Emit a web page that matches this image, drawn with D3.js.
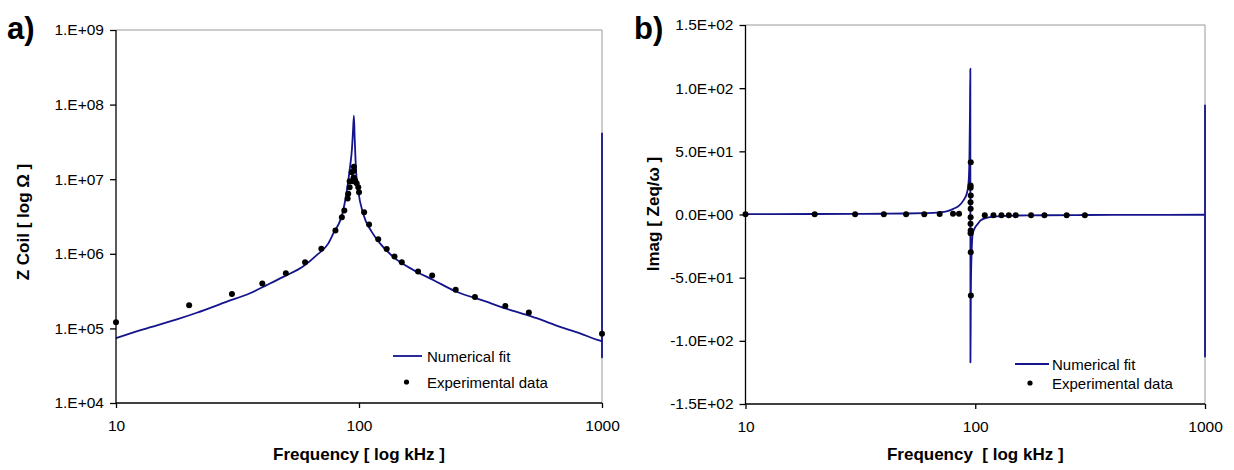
<!DOCTYPE html>
<html><head><meta charset="utf-8">
<script src="https://cdn.jsdelivr.net/npm/d3@7"></script>
<style>
html,body{margin:0;padding:0;background:#fff;}
svg{display:block;font-family:"Liberation Sans",Arial,sans-serif;}
</style></head><body>
<svg id="c" width="1234" height="470"></svg>
<script>
// ---------- Panel a) data ----------
const fitAFreq = [10, 12.95, 17.8, 21.5, 28.6, 35.6, 41.7, 48.8, 59, 67, 74.8, 78.3, 86.1, 91.8, 93.5, 94.5, 95.3, 96, 97, 99.3, 104.2, 112.7, 122, 138.3, 167.3, 202, 252, 325, 418, 538, 672, 812, 957, 1000, 1000, 1000];
const fitAZ    = [7.4e4, 9.7e4, 1.32e5, 1.62e5, 2.28e5, 2.96e5, 3.8e5, 4.9e5, 6.8e5, 9.6e5, 1.38e6, 1.86e6, 3.8e6, 1.44e7, 2.5e7, 4.5e7, 7.1e7, 3.5e7, 1.5e7, 7.0e6, 3.4e6, 1.98e6, 1.38e6, 9.1e5, 6.07e5, 4.46e5, 3.1e5, 2.35e5, 1.77e5, 1.37e5, 1.05e5, 8.6e4, 7.0e4, 6.7e4, 4.1e4, 4.2e7];
const expAFreq = [10, 20, 30, 40, 50, 60, 70, 80, 85, 87, 89.8, 90.3, 91.5, 91.5, 93.3, 94.2, 95, 95.3, 95.3, 96.4, 97.8, 99.3, 100, 105, 110, 120, 130, 140, 150, 175, 200, 250, 300, 400, 500, 1000];
const expAZ    = [1.21e5, 2.04e5, 2.9e5, 4.0e5, 5.5e5, 7.7e5, 1.17e6, 2.06e6, 3.1e6, 3.8e6, 5.5e6, 6.4e6, 7.8e6, 9.4e6, 1.24e7, 9.4e6, 1.05e7, 1.3e7, 1.47e7, 9.6e6, 8.8e6, 7.8e6, 6.7e6, 3.6e6, 2.47e6, 1.57e6, 1.16e6, 9.2e5, 7.7e5, 5.8e5, 5.1e5, 3.3e5, 2.64e5, 2.0e5, 1.63e5, 8.5e4];
const yTicksA = [1e4, 1e5, 1e6, 1e7, 1e8, 1e9];
const yTickLabelsA = ["1.E+04", "1.E+05", "1.E+06", "1.E+07", "1.E+08", "1.E+09"];

// ---------- Panel b) data ----------
const fitBFreq = [10, 20, 30, 40, 50, 60, 65.7, 70, 75, 80.3, 85, 88.7, 92, 93.5, 94.3, 94.8, 95.2, 95.3, 95.7, 96.5, 97.5, 100, 102, 105, 110, 116, 130, 152, 200, 300, 500, 1000, 1000, 1000];
const fitBVal  = [0.3, 0.4, 0.5, 0.6, 0.8, 1.1, 1.3, 1.7, 2.5, 4.5, 7, 11, 17, 25, 43, 77, 115.4, -117, -60, -28.5, -15.3, -10, -8, -5, -3, -2.1, -1.2, -0.8, -0.6, -0.4, -0.3, -0.2, 86.3, -113];
const expBFreq = [10, 20, 30, 40, 50, 60, 70, 80, 85, 95.6, 95.5, 95.5, 95.6, 95.4, 95.5, 95.5, 95.4, 95.5, 95.4, 95.6, 95.7, 110, 120, 130, 140, 150, 175, 200, 250, 300];
const expBVal  = [0.2, 0.2, 0.2, 0.2, 0.2, 0.2, 0.3, 0.5, 0.6, 41.4, 23.0, 21.1, 15.0, 9.7, 4.5, -2.1, -7.4, -12.7, -14.8, -29.8, -64.1, -0.5, -0.5, -0.5, -0.5, -0.5, -0.5, -0.5, -0.5, -0.5];
const yTicksB = [-150, -100, -50, 0, 50, 100, 150];
const yTickLabelsB = ["-1.5E+02", "-1.0E+02", "-5.0E+01", "0.0E+00", "5.0E+01", "1.0E+02", "1.5E+02"];

const xTicks = [10, 100, 1000];
const xTickLabels = ["10", "100", "1000"];

const svg = d3.select("#c");
const LINE = "#14148c";
const FONT = "15.5px";

function panel(o) {
  const g = svg.append("g");
  const x = o.x, y = o.y;
  const [x0, x1] = x.range();
  const [yb, yt] = y.range();
  // frame (top/right grey)
  g.append("line").attr("x1", x0).attr("x2", x1).attr("y1", yt).attr("y2", yt).attr("stroke", "#9a9a9a").attr("stroke-width", 1);
  g.append("line").attr("x1", x1).attr("x2", x1).attr("y1", yt).attr("y2", yb).attr("stroke", "#9a9a9a").attr("stroke-width", 1);

  // fit line: smooth part up to the first point at the right edge, then straight tail
  const pts = o.fitF.map((f, i) => [f, o.fitV[i]]);
  const cut = pts.findIndex(d => d[0] >= 1000);
  const main = pts.slice(0, cut + 1), tail = pts.slice(cut);
  const smooth = d3.line().x(d => x(d[0])).y(d => y(d[1])).curve(d3.curveMonotoneX);
  const straight = d3.line().x(d => x(d[0])).y(d => y(d[1]));
  [[main, smooth], [tail, straight]].forEach(([data, gen]) => {
    g.append("path").datum(data).attr("d", gen).attr("fill", "none")
      .attr("stroke", LINE).attr("stroke-width", 1.8).attr("stroke-linejoin", "round");
  });

  // experimental points
  g.selectAll("circle.e").data(o.expF.map((f, i) => [f, o.expV[i]])).join("circle")
    .attr("cx", d => x(d[0])).attr("cy", d => y(d[1])).attr("r", 3).attr("fill", "#000");

  // axes
  const ya = d3.axisLeft(y).tickValues(o.yTicks).tickFormat((d, i) => o.yLabels[i]).tickSize(6).tickPadding(6);
  const yg = g.append("g").attr("transform", `translate(${x0},0)`).call(ya);
  const xa = d3.axisBottom(x).tickValues(xTicks).tickFormat((d, i) => xTickLabels[i]).tickSize(5).tickPadding(12);
  const xg = g.append("g").attr("transform", `translate(0,${yb})`).call(xa);
  [yg, xg].forEach(a => {
    a.select(".domain").attr("stroke", "#000").attr("stroke-width", 1.3);
    a.selectAll(".tick line").attr("stroke", "#000").attr("stroke-width", 1.3);
    a.selectAll(".tick text").attr("fill", "#000").style("font-size", FONT).style("font-family", '"Liberation Sans",Arial,sans-serif');
  });
  xg.select(".domain").attr("d", `M${x0},0H${x1}`);
  yg.select(".domain").attr("d", `M0,${yb}V${yt}`);

  // axis titles
  g.append("text").attr("x", (x0 + x1) / 2).attr("y", 460).attr("text-anchor", "middle")
    .style("font-size", "17px").style("font-weight", "bold").text(o.xTitle);
  g.append("text").attr("transform", `translate(${o.yTitleX},${o.yTitleY}) rotate(-90)`)
    .attr("text-anchor", "middle").attr("dy", "0.35em")
    .style("font-size", "17px").style("font-weight", "bold").text(o.yTitle);

  // panel label
  g.append("text").attr("x", o.labX).attr("y", 39).style("font-size", "31px").style("font-weight", "bold").text(o.label);

  // legend
  const L = o.leg;
  g.append("line").attr("x1", L.x).attr("x2", L.x + L.w).attr("y1", L.y1).attr("y2", L.y1).attr("stroke", LINE).attr("stroke-width", 1.8);
  g.append("text").attr("x", L.tx).attr("y", L.y1 + 5.5).style("font-size", "15px").text("Numerical fit");
  g.append("circle").attr("cx", L.x + L.w / 2 + (L.dotOff || 0)).attr("cy", L.y2).attr("r", 2.6).attr("fill", "#000");
  g.append("text").attr("x", L.tx).attr("y", L.y2 + 5.5).style("font-size", "15px").text("Experimental data");
}

panel({
  x: d3.scaleLog().domain([10, 1000]).range([116, 602]),
  y: d3.scaleLog().domain([1e4, 1e9]).range([403, 30]),
  fitF: fitAFreq, fitV: fitAZ, expF: expAFreq, expV: expAZ,
  yTicks: yTicksA, yLabels: yTickLabelsA,
  xTitle: "Frequency [ log kHz ]", yTitle: "Z Coil [ log \u03A9 ]",
  yTitleX: 23, yTitleY: 222, label: "a)", labX: 7,
  leg: { x: 393, w: 29, tx: 427, y1: 356, y2: 382, dotOff: -1 }
});

panel({
  x: d3.scaleLog().domain([10, 1000]).range([745.5, 1205]),
  y: d3.scaleLinear().domain([-150, 150]).range([404, 25]),
  fitF: fitBFreq, fitV: fitBVal, expF: expBFreq, expV: expBVal,
  yTicks: yTicksB, yLabels: yTickLabelsB,
  xTitle: "Frequency\u00A0 [ log kHz ]", yTitle: "Imag [ Zeq/\u03C9 ]",
  yTitleX: 653, yTitleY: 214, label: "b)", labX: 634,
  leg: { x: 1015, w: 34, tx: 1052, y1: 364, y2: 383, dotOff: -2 }
});
</script>
</body></html>
